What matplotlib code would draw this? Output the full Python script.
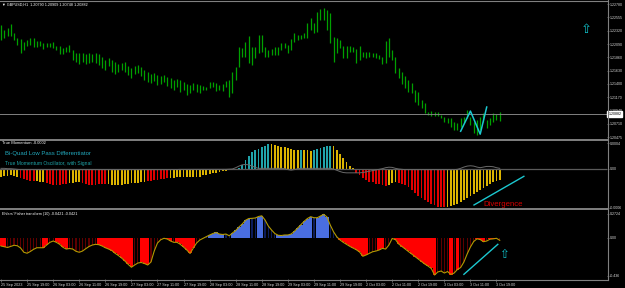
import matplotlib
matplotlib.use("Agg")
import matplotlib.pyplot as plt
from matplotlib.lines import Line2D
import numpy as np

plt.rcParams['font.family'] = ['Liberation Sans', 'DejaVu Sans']

W, H = 625, 288

# ---------------- data ----------------
# GBPUSD H1, one bar per hour from 25 Sep 11:00 to 3 Oct 20:00
bar_high = [
    1.2242, 1.2234, 1.2237, 1.2244, 1.2228, 1.2220, 1.2218, 1.2213, 1.2216, 1.2220,
    1.2220, 1.2214, 1.2214, 1.2211, 1.2211, 1.2211, 1.2213, 1.2206, 1.2206, 1.2202,
    1.2204, 1.2208, 1.2199, 1.2194, 1.2194, 1.2194, 1.2192, 1.2194, 1.2192, 1.2194,
    1.2192, 1.2187, 1.2182, 1.2185, 1.2182, 1.2178, 1.2175, 1.2176, 1.2178, 1.2171,
    1.2168, 1.2171, 1.2173, 1.2169, 1.2164, 1.2161, 1.2157, 1.2159, 1.2156, 1.2154,
    1.2156, 1.2152, 1.2150, 1.2147, 1.2149, 1.2147, 1.2143, 1.2140, 1.2138, 1.2142,
    1.2140, 1.2138, 1.2137, 1.2135, 1.2143, 1.2143, 1.2142, 1.2138, 1.2140, 1.2145,
    1.2147, 1.2161, 1.2169, 1.2204, 1.2202, 1.2213, 1.2223, 1.2204, 1.2204, 1.2225,
    1.2225, 1.2204, 1.2199, 1.2201, 1.2204, 1.2204, 1.2211, 1.2211, 1.2208, 1.2218,
    1.2228, 1.2225, 1.2225, 1.2228, 1.2246, 1.2254, 1.2246, 1.2265, 1.2270, 1.2272,
    1.2268, 1.2263, 1.2221, 1.2220, 1.2216, 1.2206, 1.2206, 1.2206, 1.2204, 1.2201,
    1.2206, 1.2195, 1.2195, 1.2195, 1.2194, 1.2194, 1.2190, 1.2187, 1.2214, 1.2220,
    1.2199, 1.2187, 1.2168, 1.2161, 1.2154, 1.2147, 1.2142, 1.2130, 1.2126, 1.2112,
    1.2107, 1.2091, 1.2093, 1.2091, 1.2091, 1.2086, 1.2083, 1.2081, 1.2081, 1.2074,
    1.2072, 1.2081, 1.2083, 1.2095, 1.2083, 1.2074, 1.2078, 1.2083, 1.2090, 1.2078,
    1.2081, 1.2090, 1.2088, 1.2091,
]
bar_low = [
    1.2216, 1.2220, 1.2223, 1.2223, 1.2216, 1.2208, 1.2194, 1.2199, 1.2206, 1.2208,
    1.2204, 1.2204, 1.2206, 1.2201, 1.2204, 1.2204, 1.2202, 1.2199, 1.2192, 1.2192,
    1.2195, 1.2195, 1.2182, 1.2178, 1.2175, 1.2178, 1.2175, 1.2176, 1.2178, 1.2176,
    1.2173, 1.2168, 1.2164, 1.2171, 1.2161, 1.2157, 1.2161, 1.2164, 1.2161, 1.2156,
    1.2150, 1.2157, 1.2159, 1.2154, 1.2147, 1.2143, 1.2142, 1.2145, 1.2138, 1.2140,
    1.2143, 1.2137, 1.2133, 1.2130, 1.2135, 1.2126, 1.2130, 1.2121, 1.2124, 1.2130,
    1.2126, 1.2124, 1.2130, 1.2130, 1.2133, 1.2135, 1.2128, 1.2130, 1.2128, 1.2135,
    1.2117, 1.2124, 1.2147, 1.2169, 1.2187, 1.2187, 1.2176, 1.2173, 1.2185, 1.2194,
    1.2195, 1.2187, 1.2187, 1.2190, 1.2190, 1.2190, 1.2199, 1.2202, 1.2194, 1.2199,
    1.2213, 1.2216, 1.2218, 1.2220, 1.2220, 1.2234, 1.2228, 1.2230, 1.2251, 1.2251,
    1.2234, 1.2211, 1.2178, 1.2194, 1.2202, 1.2185, 1.2185, 1.2195, 1.2195, 1.2176,
    1.2182, 1.2187, 1.2185, 1.2187, 1.2187, 1.2185, 1.2183, 1.2175, 1.2176, 1.2187,
    1.2182, 1.2159, 1.2150, 1.2140, 1.2133, 1.2126, 1.2124, 1.2109, 1.2104, 1.2098,
    1.2090, 1.2086, 1.2085, 1.2085, 1.2085, 1.2081, 1.2074, 1.2072, 1.2065, 1.2060,
    1.2060, 1.2065, 1.2072, 1.2081, 1.2069, 1.2055, 1.2052, 1.2060, 1.2074, 1.2064,
    1.2069, 1.2074, 1.2078, 1.2075,
]
bid_price = 1.20882
price_ticks = [1.22780, 1.22555, 1.22320, 1.22090, 1.21860, 1.21630,
               1.21400, 1.21170, 1.20940, 1.20710, 1.20475]
zz_idx = [141, 144, 147, 149]
zz_price = [1.2058, 1.2093, 1.2053, 1.2100]

# True Momentum histogram and signal, in units of 1e-4
momentum = [
    -1.25, -1.09, -1.09, -0.93, -1.09, -1.25, -1.40, -1.56, -1.71, -1.87,
    -1.87, -1.87, -2.02, -2.02, -2.18, -2.33, -2.49, -2.49, -2.49, -2.33,
    -2.33, -2.18, -2.18, -2.02, -2.02, -2.18, -2.33, -2.49, -2.49, -2.49,
    -2.33, -2.33, -2.33, -2.33, -2.49, -2.49, -2.49, -2.49, -2.33, -2.33,
    -2.18, -2.18, -2.18, -2.02, -2.02, -1.87, -1.87, -1.71, -1.71, -1.56,
    -1.56, -1.40, -1.40, -1.40, -1.25, -1.25, -1.25, -1.25, -1.25, -1.25,
    -1.17, -1.17, -1.01, -0.93, -0.78, -0.70, -0.62, -0.47, -0.39, -0.31,
    -0.23, -0.16, -0.08, 0.16, 0.62, 1.40, 2.02, 2.65, 2.96, 3.11,
    3.35, 3.58, 3.81, 3.84, 3.74, 3.58, 3.42, 3.35, 3.27, 3.11,
    2.96, 2.96, 2.96, 2.88, 2.88, 2.80, 2.96, 3.11, 3.27, 3.35,
    3.58, 3.58, 3.50, 2.96, 2.33, 1.71, 1.09, 0.47, 0.08, -0.62,
    -0.93, -1.40, -1.71, -1.95, -2.10, -2.26, -2.41, -2.49, -2.57, -2.49,
    -2.18, -2.02, -2.18, -2.33, -2.49, -2.80, -3.27, -3.74, -4.20, -4.51,
    -4.82, -5.14, -5.45, -5.68, -5.84, -5.91, -5.99, -5.84, -5.76, -5.60,
    -5.37, -5.14, -4.82, -4.51, -4.20, -3.89, -3.58, -3.27, -2.96, -2.65,
    -2.33, -2.10, -1.87, -1.71,
]
momentum_runs = [("y", 6), ("r", 5), ("y", 3), ("r", 7), ("y", 4), ("r", 8),
                 ("y", 12), ("r", 7), ("y", 21), ("t", 10), ("y", 9), ("t", 1),
                 ("y", 3), ("t", 6), ("y", 7), ("r", 10), ("y", 3), ("r", 15),
                 ("y", 17)]
signal = [
    0.10, 0.10, 0.05, 0.05, 0.00, -0.05, -0.10, -0.10, -0.10, -0.10,
    -0.10, -0.10, -0.10, -0.10, -0.10, -0.10, -0.10, -0.10, -0.10, -0.10,
    -0.10, -0.10, -0.10, -0.10, -0.10, -0.10, -0.10, -0.10, -0.10, -0.10,
    -0.10, -0.10, -0.10, -0.10, -0.10, -0.10, -0.10, -0.10, -0.10, -0.10,
    -0.10, -0.10, -0.10, -0.10, -0.10, -0.10, -0.10, -0.10, -0.10, -0.10,
    -0.10, -0.10, -0.10, -0.08, -0.08, -0.06, -0.06, -0.05, -0.05, -0.05,
    -0.05, -0.05, -0.05, -0.05, -0.05, -0.05, -0.05, -0.05, -0.05, -0.05,
    -0.02, 0.00, 0.20, 0.45, 0.65, 0.70, 0.65, 0.45, 0.25, 0.10,
    0.10, 0.10, 0.10, 0.10, 0.10, 0.10, 0.10, 0.05, -0.10, -0.18,
    -0.10, 0.05, 0.10, 0.10, 0.10, 0.10, 0.10, 0.10, 0.10, 0.10,
    0.10, 0.10, 0.00, -0.20, -0.40, -0.55, -0.60, -0.60, -0.60, -0.60,
    -0.60, -0.55, -0.45, -0.35, -0.25, -0.15, -0.05, 0.05, 0.20, 0.28,
    0.25, 0.10, 0.00, -0.05, -0.10, -0.10, -0.10, -0.10, -0.10, -0.10,
    -0.10, -0.10, -0.10, -0.10, -0.10, -0.10, -0.10, -0.10, -0.10, -0.10,
    -0.05, 0.10, 0.30, 0.45, 0.50, 0.45, 0.30, 0.20, 0.30, 0.40,
    0.40, 0.35, 0.20, 0.10,
]
mom_ticks = [0.0004, 0.0, -0.0006]
mom_tick_labels = ["0.0004", "0.00", "-0.0006"]
div_idx = [145.1, 160.4]
div_mom = [-5.6, -1.14]
div_label_pos = (148.0, -5.55)

# Ehlers' Fisher transform
fisher = [
    -0.095, -0.103, -0.112, -0.100, -0.087, -0.092, -0.118, -0.167, -0.178, -0.158,
    -0.133, -0.115, -0.115, -0.115, -0.084, -0.053, -0.038, -0.053, -0.076, -0.110,
    -0.130, -0.124, -0.130, -0.156, -0.167, -0.153, -0.126, -0.101, -0.084, -0.076,
    -0.080, -0.095, -0.115, -0.130, -0.147, -0.179, -0.204, -0.233, -0.267, -0.305,
    -0.339, -0.313, -0.290, -0.284, -0.296, -0.313, -0.279, -0.153, -0.061, -0.023,
    -0.007, -0.015, -0.038, -0.053, -0.053, -0.076, -0.107, -0.141, -0.181, -0.118,
    -0.061, -0.026, -0.007, 0.011, 0.031, 0.048, 0.060, 0.042, 0.037, 0.042,
    0.022, 0.054, 0.083, 0.123, 0.157, 0.200, 0.220, 0.222, 0.226, 0.243,
    0.251, 0.203, 0.134, 0.088, 0.048, 0.028, 0.025, 0.031, 0.031, 0.042,
    0.073, 0.111, 0.149, 0.188, 0.220, 0.241, 0.229, 0.229, 0.249, 0.268,
    0.237, 0.146, 0.069, 0.011, -0.026, -0.053, -0.076, -0.099, -0.118, -0.138,
    -0.164, -0.213, -0.198, -0.179, -0.161, -0.153, -0.141, -0.122, -0.130, -0.084,
    -0.009, -0.021, -0.072, -0.101, -0.130, -0.158, -0.187, -0.216, -0.244, -0.273,
    -0.302, -0.325, -0.353, -0.428, -0.393, -0.382, -0.405, -0.388, -0.422, -0.405,
    -0.365, -0.342, -0.279, -0.187, -0.107, -0.044, -0.013, -0.021, -0.046, -0.038,
    -0.017, -0.013, -0.007, -0.030,
]
# S = strong (solid block), w = weak (thin dark bar)
fisher_runs = [("S", 2), ("w", 11), ("S", 2), ("w", 2), ("S", 4), ("w", 9),
               ("S", 11), ("w", 2), ("S", 3), ("w", 5), ("S", 2), ("w", 1),
               ("S", 6), ("w", 4), ("S", 5), ("w", 2), ("S", 6), ("w", 2),
               ("S", 2), ("w", 4), ("S", 11), ("w", 1), ("S", 4), ("w", 3),
               ("S", 9), ("w", 3), ("S", 2), ("w", 3), ("S", 13), ("w", 4),
               ("S", 1), ("w", 1), ("S", 1), ("w", 5), ("S", 3), ("w", 1),
               ("S", 3), ("w", 1)]
fisher_ticks = [0.2724, 0.0, -0.436]
fisher_tick_labels = ["0.2724", "0.00", "-0.436"]
fdiv_idx = [142.0, 152.4]
fdiv_val = [-0.42, -0.076]

time_idx = list(range(0, 154, 8))
time_labels = ["25 Sep 2023", "25 Sep 19:00", "26 Sep 03:00", "26 Sep 11:00",
               "26 Sep 19:00", "27 Sep 03:00", "27 Sep 11:00", "27 Sep 19:00",
               "28 Sep 03:00", "28 Sep 11:00", "28 Sep 19:00", "29 Sep 03:00",
               "29 Sep 11:00", "29 Sep 19:00", "2 Oct 03:00", "2 Oct 11:00",
               "2 Oct 19:00", "3 Oct 03:00", "3 Oct 11:00", "3 Oct 19:00"]

# ---------------- figure ----------------
fig = plt.figure(figsize=(W / 100, H / 100), dpi=100, facecolor="black")
GRAY = "#808080"
TXT = "#d8d8d8"
CYAN = "#1cc8d0"


def px_axes(top, bottom):
    ax = fig.add_axes([0, 1 - bottom / H, 607 / W, (bottom - top) / H])
    ax.set_facecolor("black")
    for s in ax.spines.values():
        s.set_visible(False)
    ax.set_xlim(-0.31, 185.9)
    ax.yaxis.tick_right()
    ax.tick_params(axis="y", direction="out", length=1.5, width=0.5, color=GRAY,
                   labelcolor=TXT, labelsize=2.6, pad=0.8)
    ax.tick_params(axis="x", bottom=False, labelbottom=False)
    return ax


def fig_text(x, y, s, **kw):
    fig.text(x / W, 1 - y / H, s, va="center", ha="left", **kw)


idx = np.arange(len(bar_high))

# price panel
ax1 = px_axes(1, 139)
ax1.set_ylim(1.20446, 1.22838)
ax1.vlines(idx, bar_low, bar_high, color="#00a000", lw=0.9)
ax1.axhline(bid_price, color=GRAY, lw=0.7)
ax1.plot(zz_idx, zz_price, color=CYAN, lw=1.1)
ax1.set_yticks(price_ticks)
ax1.set_yticklabels([f"{v:.5f}" for v in price_ticks])
ax1.annotate(f"{bid_price:.5f}", xy=(1, bid_price), xycoords=("axes fraction", "data"),
             xytext=(1.0, 0), textcoords="offset points", ha="left", va="center",
             fontsize=2.6, color="black",
             bbox=dict(boxstyle="square,pad=0.25", fc="white", ec="white"))
ax1.text(179.5, 1.2235, "\u21e7", color="#10c0c8", fontsize=9.5, ha="center",
         va="center", family="DejaVu Sans")

# true momentum panel
ax2 = px_axes(140, 208)
ax2.set_ylim(-0.000607, 0.000451)
mom_cols = {"y": "#dcb400", "r": "#e00000", "t": "#20a4aa"}
colors = [mom_cols[c] for c, n in momentum_runs for _ in range(n)]
ax2.bar(idx, np.array(momentum) * 1e-4, width=0.55, color=colors, linewidth=0)
ax2.axhline(0, color="#5a5a5a", lw=0.9)
ax2.plot(idx, np.array(signal) * 1e-4, color="#6a6a6a", lw=0.7)
ax2.plot(div_idx, np.array(div_mom) * 1e-4, color=CYAN, lw=1.0)
ax2.set_yticks(mom_ticks)
ax2.set_yticklabels(mom_tick_labels)
ax2.text(div_label_pos[0], div_label_pos[1] * 1e-4, "Divergence", color="#d80000",
         fontsize=5.6, ha="left", va="center", clip_on=False)

# fisher panel
ax3 = px_axes(210, 279)
ax3.set_ylim(-0.4736, 0.3177)
strong = [c for c, n in fisher_runs for _ in range(n)]
fv = np.array(fisher)
s_mask = np.array([c == "S" for c in strong])
s_cols = np.where(fv[s_mask] < 0, "#ff0000", "#4a6ee0")
w_cols = np.where(fv[~s_mask] < 0, "#5e0000", "#0c1c5a")
ax3.bar(idx[s_mask], fv[s_mask], width=1.02, color=s_cols, linewidth=0)
ax3.bar(idx[~s_mask], fv[~s_mask], width=0.35, color=w_cols, linewidth=0)
ax3.plot(idx, fv, color="#b49a00", lw=0.8)
ax3.plot(fdiv_idx, fdiv_val, color=CYAN, lw=1.0)
ax3.text(154.3, -0.198, "\u21e7", color="#10c0c8", fontsize=8.5, ha="center",
         va="center", family="DejaVu Sans")
ax3.set_yticks(fisher_ticks)
ax3.set_yticklabels(fisher_tick_labels)
ax3.set_xticks(time_idx)
ax3.set_xticklabels(time_labels)
ax3.tick_params(axis="x", bottom=True, labelbottom=True, direction="out", length=2,
                width=0.5, color=GRAY, labelcolor=TXT, labelsize=2.7, pad=1)
for lbl in ax3.get_xticklabels():
    lbl.set_horizontalalignment("left")

# frame lines (MT4 window borders)
def hline(y, lw):
    fig.add_artist(Line2D([0, 608 / W], [1 - y / H, 1 - y / H], color=GRAY, lw=lw,
                          transform=fig.transFigure))

hline(0.5, 0.8)
hline(139.5, 1.4)
hline(209.2, 1.4)
hline(279.5, 0.8)
fig.add_artist(Line2D([607.5 / W, 607.5 / W], [1 - 280 / H, 1], color=GRAY, lw=0.8,
                      transform=fig.transFigure))

# window titles and indicator captions
fig_text(2, 5, "\u25bc GBPUSD,H1  1.20790 1.20909 1.20748 1.20882", color="white",
         fontsize=2.7)
fig_text(2, 143.5, "True Momentum -0.0002", color="white", fontsize=2.9)
fig_text(5, 154, "Bi-Quad Low Pass Differentiator", color="#22a8bc", fontsize=4.3)
fig_text(5, 164, "True Momentum Oscillator, with Signal", color="#1fa2a6", fontsize=3.6)
fig_text(2, 214.5, "Ehlers' Fisher transform (10) -0.0421 -0.0421", color="white",
         fontsize=2.7)

fig.savefig("out.png", dpi=100, facecolor="black")
